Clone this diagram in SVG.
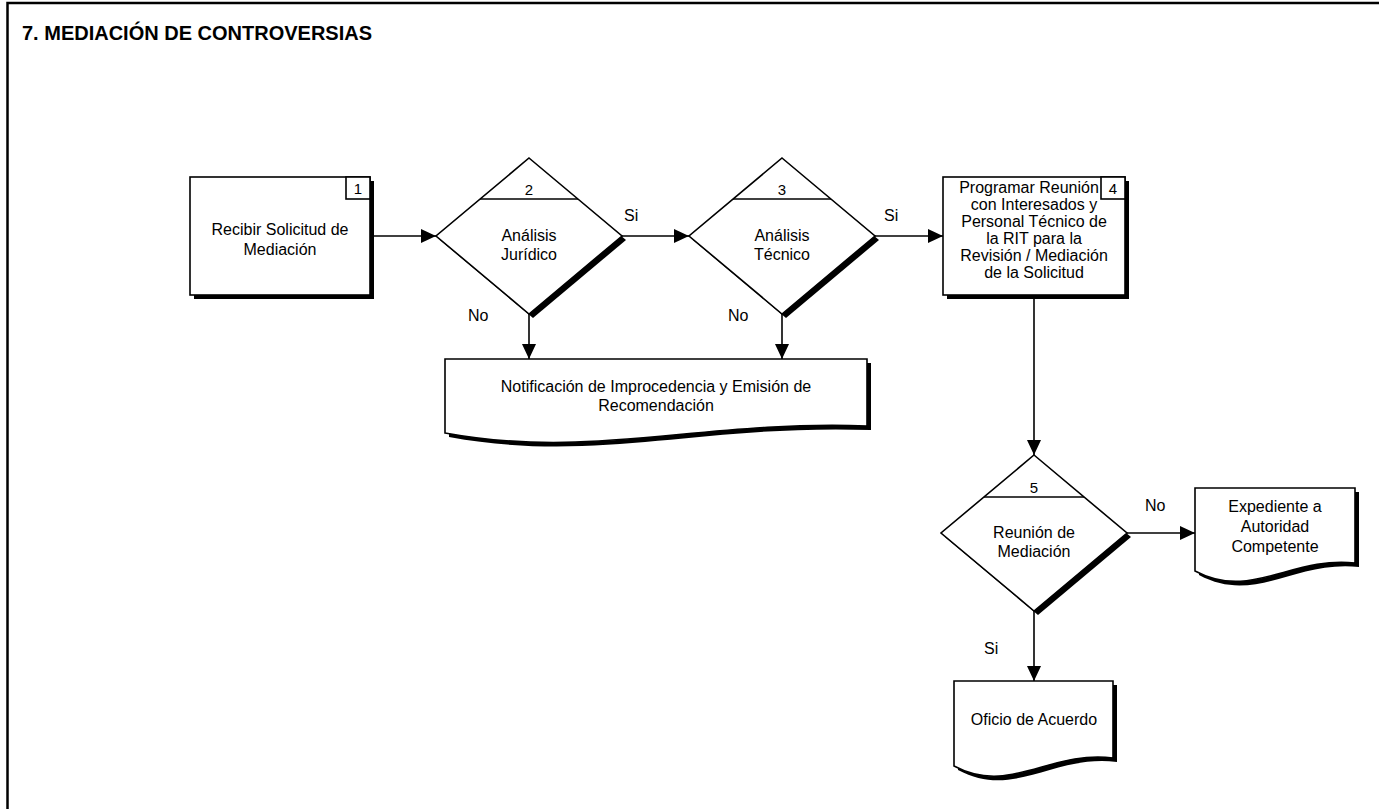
<svg xmlns="http://www.w3.org/2000/svg" width="1379" height="809" viewBox="0 0 1379 809">
  <defs>
    <style>
      .frame { fill: none; stroke: #000; stroke-width: 2.5; }
      .shape { fill: #fff; stroke: #000; stroke-width: 1.6; }
      .shadow { fill: #000; stroke: none; }
      .line { fill: none; stroke: #000; stroke-width: 1.6; }
      .conn { fill: none; stroke: #000; stroke-width: 1.6; marker-end: url(#arrow); }
      text { font-family: "Liberation Sans", Arial, sans-serif; font-size: 16px; fill: #000; }
      .c { text-anchor: middle; }
      .title { font-size: 20px; font-weight: bold; }
      .num { font-size: 15px; text-anchor: middle; }
    </style>
    <marker id="arrow" markerUnits="userSpaceOnUse" viewBox="0 0 15 14" refX="15" refY="7" markerWidth="15" markerHeight="14" orient="auto">
      <path d="M0,0 L15,7 L0,14 Z" fill="#000"/>
    </marker>
  </defs>

  <rect width="1379" height="809" fill="#fff"/>

  <!-- page frame -->
  <path class="frame" d="M7.5,809 V3 H1379"/>
  <text class="title" x="22" y="40">7. MEDIACIÓN DE CONTROVERSIAS</text>

  <!-- connectors -->
  <g id="connectors">
    <path class="conn" d="M370,236 H436"/>
    <path class="conn" d="M622,236 H689"/>
    <path class="conn" d="M875,236 H943"/>
    <path class="conn" d="M529,314 V359"/>
    <path class="conn" d="M782,314 V359"/>
    <path class="conn" d="M1034,295 V455"/>
    <path class="conn" d="M1127,533 H1195"/>
    <path class="conn" d="M1034,611 V681"/>
    <text x="624" y="221">Si</text>
    <text x="884" y="221">Si</text>
    <text x="468" y="321">No</text>
    <text x="728" y="321">No</text>
    <text x="1145" y="511">No</text>
    <text x="984" y="654">Si</text>
  </g>

  <!-- 1: process -->
  <g id="n1">
    <rect class="shadow" x="194" y="181" width="180" height="118"/>
    <rect class="shape" x="190" y="177" width="180" height="118"/>
    <rect class="shape" x="346" y="177" width="24" height="22"/>
    <text class="num" x="358" y="194">1</text>
    <text class="c" x="280" y="235">Recibir Solicitud de</text>
    <text class="c" x="280" y="255">Mediación</text>
  </g>

  <!-- 2: decision -->
  <g id="n2">
    <polygon class="shadow" points="533,162 626,240 533,318 440,240"/>
    <polygon class="shape" points="529,158 622,236 529,314 436,236"/>
    <line class="line" x1="480" y1="199" x2="578" y2="199"/>
    <text class="num" x="529" y="195">2</text>
    <text class="c" x="529" y="241">Análisis</text>
    <text class="c" x="529" y="260">Jurídico</text>
  </g>

  <!-- 3: decision -->
  <g id="n3">
    <polygon class="shadow" points="786,162 879,240 786,318 693,240"/>
    <polygon class="shape" points="782,158 875,236 782,314 689,236"/>
    <line class="line" x1="733" y1="199" x2="831" y2="199"/>
    <text class="num" x="782" y="195">3</text>
    <text class="c" x="782" y="241">Análisis</text>
    <text class="c" x="782" y="260">Técnico</text>
  </g>

  <!-- 4: process -->
  <g id="n4">
    <rect class="shadow" x="947" y="181" width="182" height="118"/>
    <rect class="shape" x="943" y="177" width="182" height="118"/>
    <rect class="shape" x="1101" y="177" width="24" height="22"/>
    <text class="num" x="1113" y="194">4</text>
    <text class="c" x="1029" y="193">Programar Reunión</text>
    <text class="c" x="1034" y="210">con Interesados y</text>
    <text class="c" x="1034" y="227">Personal Técnico de</text>
    <text class="c" x="1034" y="244">la RIT para la</text>
    <text class="c" x="1034" y="261">Revisión / Mediación</text>
    <text class="c" x="1034" y="278">de la Solicitud</text>
  </g>

  <!-- document: notificación -->
  <g id="n6">
    <path class="shadow" transform="translate(4,4)" d="M445,359 H867 V426 C698,420 593,460 445,433 Z"/>
    <path class="shape" d="M445,359 H867 V426 C698,420 593,460 445,433 Z"/>
    <text class="c" x="656" y="392">Notificación de Improcedencia y Emisión de</text>
    <text class="c" x="656" y="411">Recomendación</text>
  </g>

  <!-- 5: decision -->
  <g id="n5">
    <polygon class="shadow" points="1038,459 1131,537 1038,615 945,537"/>
    <polygon class="shape" points="1034,455 1127,533 1034,611 941,533"/>
    <line class="line" x1="984" y1="497" x2="1084" y2="497"/>
    <text class="num" x="1034" y="493">5</text>
    <text class="c" x="1034" y="538">Reunión de</text>
    <text class="c" x="1034" y="557">Mediación</text>
  </g>

  <!-- document: expediente -->
  <g id="n7">
    <path class="shadow" transform="translate(4,4)" d="M1195,488 H1355 V563 C1291,556 1251,601 1195,571 Z"/>
    <path class="shape" d="M1195,488 H1355 V563 C1291,556 1251,601 1195,571 Z"/>
    <text class="c" x="1275" y="512">Expediente a</text>
    <text class="c" x="1275" y="532">Autoridad</text>
    <text class="c" x="1275" y="552">Competente</text>
  </g>

  <!-- document: oficio -->
  <g id="n8">
    <path class="shadow" transform="translate(4,4)" d="M954,681 H1113 V758 C1049,750 1010,796 954,766 Z"/>
    <path class="shape" d="M954,681 H1113 V758 C1049,750 1010,796 954,766 Z"/>
    <text class="c" x="1034" y="725">Oficio de Acuerdo</text>
  </g>
</svg>
